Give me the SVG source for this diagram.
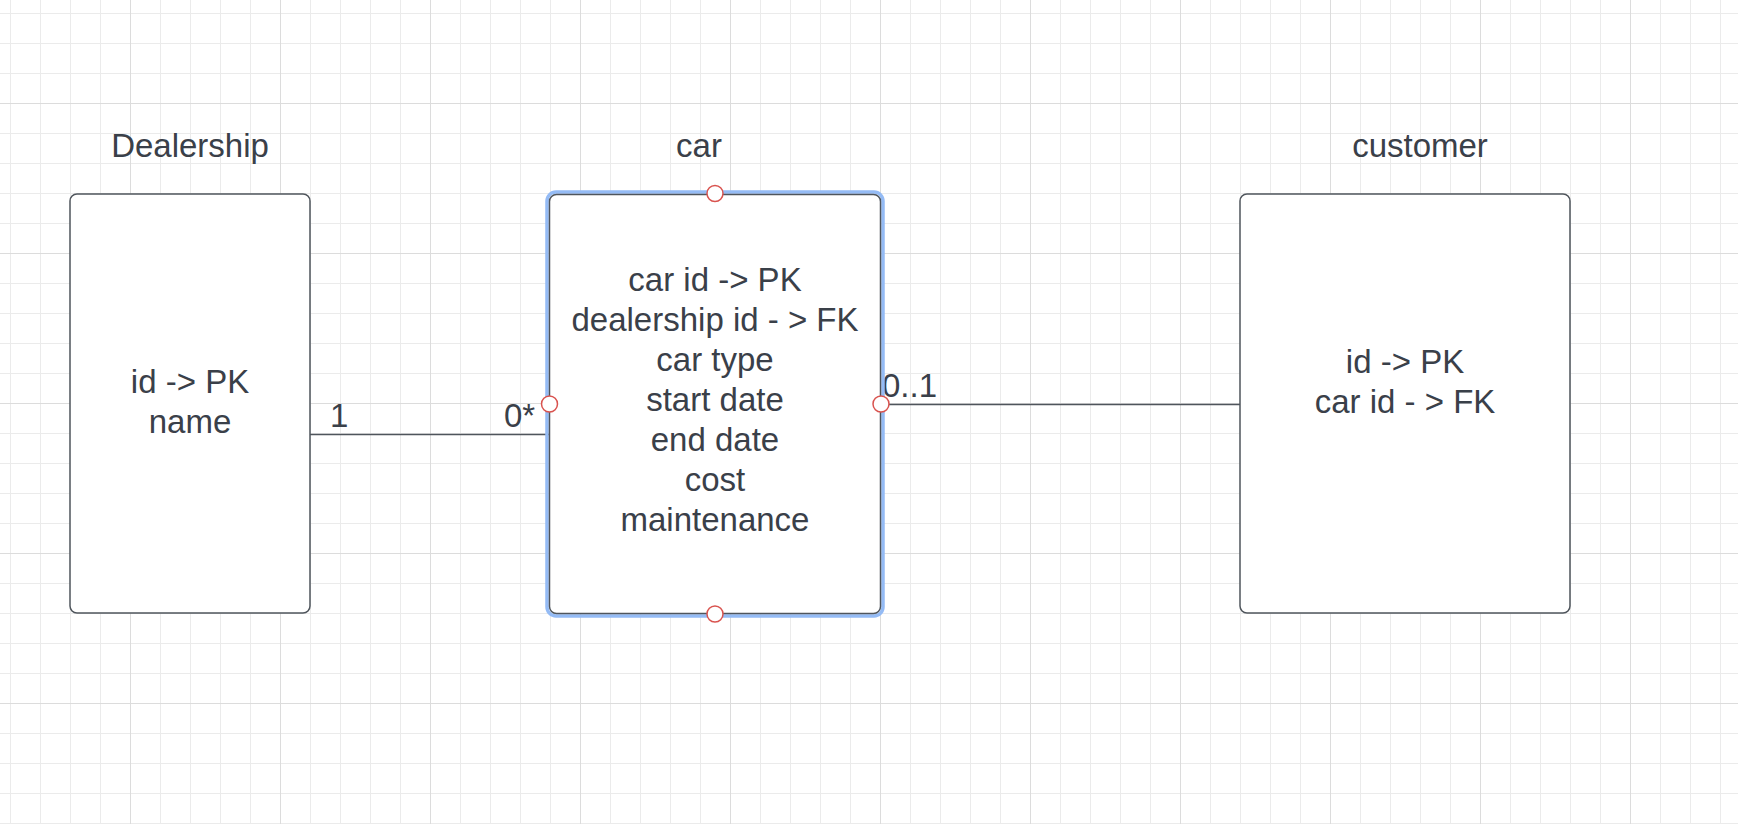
<svg xmlns="http://www.w3.org/2000/svg" width="1738" height="824" viewBox="0 0 1738 824">
<defs>
<style>
.t{font-family:"Liberation Sans",Arial,sans-serif;font-size:33px;fill:#3a4049;text-anchor:middle}
.lbl{font-family:"Liberation Sans",Arial,sans-serif;font-size:33px;fill:#3a4049}
.box{fill:#ffffff;stroke:#4f555c;stroke-width:1.5}
.conn{stroke:#4f555c;stroke-width:1.5;fill:none}
.pt{fill:#ffffff;stroke:#d9534f;stroke-width:1.5}
</style>
<pattern id="minor" x="10" y="13" width="30" height="30" patternUnits="userSpaceOnUse">
<path d="M0.5 0V30M0 0.5H30" stroke="#ebebeb" stroke-width="1" fill="none"/>
</pattern>
<pattern id="major" x="130" y="103" width="150" height="150" patternUnits="userSpaceOnUse">
<path d="M0.5 0V150M0 0.5H150" stroke="#dcdcdc" stroke-width="1" fill="none"/>
</pattern>
</defs>
<rect width="1738" height="824" fill="#ffffff"/>
<rect width="1738" height="824" fill="url(#minor)"/>
<rect width="1738" height="824" fill="url(#major)"/>

<g id="connectors">
<line class="conn" x1="310" y1="434.5" x2="549" y2="434.5"/>
<line class="conn" x1="881" y1="404.5" x2="1240" y2="404.5"/>
<text class="lbl" x="330" y="427">1</text>
<text class="lbl" x="504" y="427">0*</text>
<text class="lbl" x="882" y="397">0..1</text>
</g>

<g id="dealership">
<text class="t" x="190" y="157">Dealership</text>
<rect class="box" x="70" y="194" width="240" height="419" rx="7"/>
<text class="t" x="190" y="393">id -&gt; PK</text>
<text class="t" x="190" y="433">name</text>
</g>

<g id="car">
<text class="t" x="699" y="157">car</text>
<rect x="547" y="192" width="336" height="424" rx="9" fill="none" stroke="#94bbf5" stroke-width="3.5"/>
<rect class="box" x="549.5" y="194.5" width="331" height="419" rx="7"/>
<text class="t" x="715" y="291">car id -&gt; PK</text>
<text class="t" x="715" y="331">dealership id - &gt; FK</text>
<text class="t" x="715" y="371">car type</text>
<text class="t" x="715" y="411">start date</text>
<text class="t" x="715" y="451">end date</text>
<text class="t" x="715" y="491">cost</text>
<text class="t" x="715" y="531">maintenance</text>
<circle class="pt" cx="715" cy="193.5" r="8"/>
<circle class="pt" cx="715" cy="614" r="8"/>
<circle class="pt" cx="549.5" cy="404" r="8"/>
<circle class="pt" cx="881" cy="404" r="8"/>
</g>

<g id="customer">
<text class="t" x="1420" y="157">customer</text>
<rect class="box" x="1240" y="194" width="330" height="419" rx="7"/>
<text class="t" x="1405" y="373">id -&gt; PK</text>
<text class="t" x="1405" y="413">car id - &gt; FK</text>
</g>
</svg>
